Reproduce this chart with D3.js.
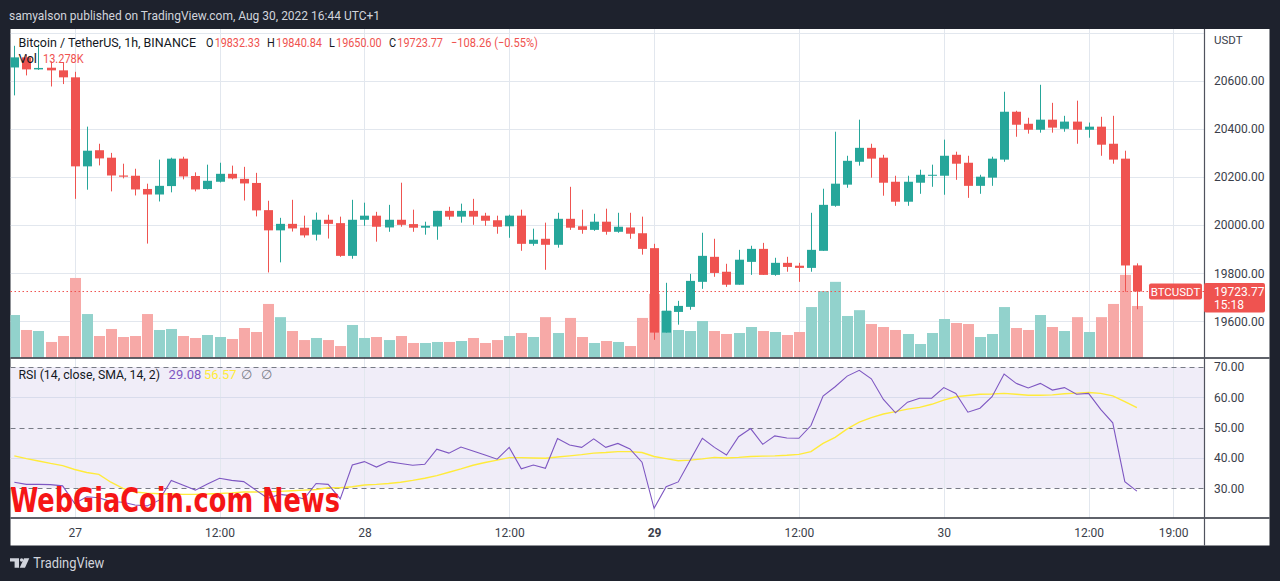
<!DOCTYPE html>
<html><head><meta charset="utf-8">
<script src="https://cdn.jsdelivr.net/npm/d3@7"></script>
<style>
html,body{margin:0;padding:0;background:#1e222d;}
svg{display:block;font-family:Roboto,"Noto Sans",sans-serif;}
</style></head><body>
<svg id="c" width="1280" height="581"></svg>
<script>
// ---- data (1h candles, hours counted from Aug 27 00:00 UTC+1) ----
const startHour = -5; // first visible candle: Aug 26 19:00
const opens = [20655,20697,20647,20654,20643,20614,20244,20311,20280,20206,
 20205,20150,20127,20162,20276,20204,20150,20180,20213,20192,
 20175,20062,19978,20005,19989,19960,20022,20008,19872,20022,
 20039,19990,20022,20004,19989,19994,20059,20035,20059,20039,
 20020,19995,20039,19922,19943,19918,20026,19995,19980,20014,
 19972,19990,19966,19904,19553,19639,19660,19764,19868,19806,
 19752,19847,19901,19793,19843,19831,19822,19893,20080,20168,
 20263,20321,20280,20180,20097,20176,20205,20205,20292,20259,
 20163,20197,20272,20471,20421,20396,20438,20400,20430,20396,
 20409,20338,20276,19832.33];
const highs = [20745,20708,20750,20680,20675,20637,20409,20338,20300,20255,
 20234,20172,20272,20280,20284,20219,20251,20259,20247,20242,
 20217,20101,20030,20105,20039,20052,20043,20035,20105,20093,
 20055,20084,20176,20064,20014,20059,20076,20089,20109,20051,
 20039,20043,20064,19985,20010,20051,20159,20064,20047,20068,
 20051,20051,20035,19922,19760,19685,19797,19968,19943,19839,
 19897,19914,19926,19864,19868,19843,20051,20151,20388,20288,
 20438,20338,20292,20205,20205,20230,20251,20355,20305,20288,
 20209,20284,20554,20475,20446,20583,20508,20454,20517,20426,
 20450,20454,20309,19840.84];
const lows = [20539,20622,20645,20576,20586,20109,20147,20248,20140,20194,
 20123,19923,20098,20136,20190,20140,20148,20177,20190,20102,
 20036,19803,19845,19973,19948,19936,19944,19868,19860,19997,
 19931,19972,19993,19972,19960,19939,20022,20010,20001,19997,
 19964,19947,19893,19914,19814,19906,19980,19964,19976,19960,
 19968,19943,19877,19523,19553,19586,19648,19735,19785,19743,
 19752,19793,19793,19789,19806,19764,19806,19893,20076,20155,
 20247,20197,20122,20080,20080,20130,20159,20126,20188,20113,
 20130,20163,20263,20367,20380,20384,20384,20388,20338,20363,
 20288,20255,19723,19650.00];
const closes = [20697,20647,20653,20643,20614,20244,20309,20277,20206,20201,
 20148,20127,20163,20276,20202,20148,20184,20213,20194,20173,
 20061,19978,20005,19986,19957,20022,20005,19872,20022,20039,
 19993,20022,20001,19989,19997,20059,20035,20059,20035,20018,
 19993,20039,19922,19939,19918,20026,19989,19980,20014,19972,
 19993,19964,19901,19553,19644,19664,19768,19872,19801,19752,
 19856,19901,19793,19843,19826,19822,19897,20084,20172,20267,
 20321,20276,20176,20097,20180,20209,20209,20288,20255,20163,
 20201,20276,20471,20417,20396,20438,20405,20430,20396,20409,
 20334,20272,19832.03,19723.77];
const volumesK = [10.95,7.09,6.83,4.0,5.54,20.5,11.2,5.54,7.35,5.28,
 5.54,11.2,7.09,7.35,5.54,5.03,5.8,5.28,4.77,7.6,
 6.57,13.8,10.4,6.83,4.5,5.03,4.5,2.96,8.38,5.03,
 5.28,4.5,5.54,3.74,3.74,4.0,4.0,4.25,5.03,3.74,
 4.5,5.54,6.31,5.28,10.4,6.31,10.2,5.28,3.74,4.25,
 4.0,2.96,10.2,16.4,12.0,7.09,6.83,9.41,6.83,6.06,
 6.31,7.86,6.83,6.57,5.8,6.57,13.0,17.1,19.5,10.7,
 12.2,8.63,7.86,7.09,6.06,3.48,6.31,9.92,8.89,8.63,
 5.28,6.06,13.0,7.6,7.09,10.95,7.86,6.83,10.4,6.57,
 10.4,13.8,21.3,13.278];
const rsi = [32.0,31.3,31.3,31.2,30.8,25.0,27.2,26.9,25.6,25.4,
 24.5,24.2,26.1,32.6,31.0,29.4,31.4,33.3,32.6,32.2,
 29.4,26.7,28.0,27.5,26.5,31.6,31.3,26.5,37.7,38.8,
 37.0,38.8,38.2,37.6,37.9,42.9,41.6,43.6,42.3,41.0,
 39.6,43.5,36.4,37.7,36.6,46.4,44.3,43.5,46.3,43.5,
 44.8,43.0,38.6,23.4,30.5,32.1,39.3,46.5,43.5,41.0,
 47.0,49.7,44.5,47.3,46.6,46.5,50.7,60.4,63.5,67.0,
 68.9,66.1,59.3,54.9,58.4,59.7,59.7,63.2,61.3,55.1,
 56.4,60.2,67.7,64.6,63.1,64.6,62.4,63.2,61.0,61.3,
 56.0,51.6,32.2,29.08];
const rsiSma = [40.7,39.8,39.0,38.2,37.5,36.2,35.2,34.6,32.0,30.0,
 28.8,28.4,28.2,28.1,28.0,28.0,28.1,28.3,28.5,28.8,
 28.8,28.9,29.0,29.2,29.4,29.6,30.2,30.2,30.5,31.1,
 31.3,31.6,32.0,32.6,33.3,34.2,35.3,36.4,37.6,38.5,
 39.3,40.1,40.1,40.0,39.9,40.3,40.7,41.1,41.6,41.8,
 42.1,42.1,41.8,40.5,39.8,39.1,39.3,39.7,40.2,40.0,
 40.2,40.5,40.6,40.7,40.9,41.2,42.1,44.8,46.8,49.6,
 51.8,53.3,54.5,55.3,56.1,56.7,57.7,59.1,60.2,60.6,
 61.0,61.1,61.3,61.0,60.7,60.7,60.8,61.2,61.4,61.6,
 61.3,60.5,58.6,56.57];
const priceTicks = [19600,19800,20000,20200,20400,20600];
const priceGrid = [19600,19800,20000,20200,20400,20600,20800];
const rsiTicks = [30,40,50,60,70];
const timeTickHours = [0,12,24,36,48,60,72,84,91];
const timeTickLabels = ["27","12:00","28","12:00","29","12:00","30","12:00","19:00"];
const boldTimeLabels = ["29"];

// ---- layout ----
const L = 10.5, R = 1204, TOP = 29, MAINB = 358, RSIB = 518, BOT = 545.5, RIGHT = 1269.5;
const UP = "#26a69a", DOWN = "#ef5350", UPV = "#92d2cc", DOWNV = "#f7a9a7";
const GRID = "#e2e7ee";

const svg = d3.select("#c");
const x = d3.scaleLinear().domain([0, 84]).range([74.7, 1088.6]);
const yP = d3.scaleLinear().domain([19600, 20600]).range([321.3, 80.7]);
const yV = d3.scaleLinear().domain([0, 20]).range([357.5, 357.5 - 77.6]);
const yR = d3.scaleLinear().domain([30, 70]).range([488.3, 367]);
const cx = i => x(startHour + i);

svg.append("rect").attr("x", L).attr("y", TOP).attr("width", RIGHT - L).attr("height", BOT - TOP).attr("fill", "#ffffff");

const defs = svg.append("defs");
defs.append("clipPath").attr("id", "cm").append("rect").attr("x", L).attr("y", TOP).attr("width", R - L).attr("height", MAINB - TOP);
defs.append("clipPath").attr("id", "cr").append("rect").attr("x", L).attr("y", MAINB).attr("width", R - L).attr("height", RSIB - MAINB);

svg.append("rect").attr("x", L).attr("width", R - L).attr("y", yR(70)).attr("height", yR(30) - yR(70)).attr("fill", "#f0edf8");

const g = svg.append("g");
g.selectAll("line.vg").data(timeTickHours).join("line")
  .attr("x1", d => Math.round(x(d)) + 0.5).attr("x2", d => Math.round(x(d)) + 0.5)
  .attr("y1", TOP).attr("y2", RSIB).attr("stroke", GRID).attr("stroke-width", 1);
g.append("g").attr("clip-path", "url(#cm)").selectAll("line").data(priceGrid).join("line")
  .attr("x1", L).attr("x2", R).attr("y1", d => Math.round(yP(d)) + 0.5).attr("y2", d => Math.round(yP(d)) + 0.5)
  .attr("stroke", GRID);
g.selectAll("line.rg").data([40, 60]).join("line")
  .attr("x1", L).attr("x2", R).attr("y1", d => Math.round(yR(d)) + 0.5).attr("y2", d => Math.round(yR(d)) + 0.5)
  .attr("stroke", "#d9dcec");

const idx = d3.range(closes.length);
svg.append("g").attr("clip-path", "url(#cm)").selectAll("rect").data(idx).join("rect")
  .attr("x", i => Math.round(cx(i)) - 5).attr("width", 11)
  .attr("y", i => yV(volumesK[i])).attr("height", i => yV(0) - yV(volumesK[i]))
  .attr("fill", i => closes[i] >= opens[i] ? UPV : DOWNV);

const lastC = closes[closes.length - 1];
svg.append("line").attr("x1", L).attr("x2", R).attr("y1", yP(lastC)).attr("y2", yP(lastC))
  .attr("stroke", DOWN).attr("stroke-width", 1).attr("stroke-dasharray", "1.5,2.5");

const cg = svg.append("g").attr("clip-path", "url(#cm)");
cg.selectAll("line").data(idx).join("line")
  .attr("x1", i => Math.round(cx(i)) + 0.5).attr("x2", i => Math.round(cx(i)) + 0.5)
  .attr("y1", i => yP(highs[i])).attr("y2", i => yP(lows[i]))
  .attr("stroke", i => closes[i] >= opens[i] ? UP : DOWN).attr("stroke-width", 1);
cg.selectAll("rect").data(idx).join("rect")
  .attr("x", i => Math.round(cx(i)) - 4).attr("width", 9)
  .attr("y", i => yP(Math.max(opens[i], closes[i])))
  .attr("height", i => Math.max(1, Math.abs(yP(opens[i]) - yP(closes[i]))))
  .attr("fill", i => closes[i] >= opens[i] ? UP : DOWN);

svg.selectAll("line.dl").data([70, 50, 30]).join("line")
  .attr("x1", L).attr("x2", R).attr("y1", d => Math.round(yR(d)) + 0.5).attr("y2", d => Math.round(yR(d)) + 0.5)
  .attr("stroke", "#787b86").attr("stroke-dasharray", "5,4");

const rg = svg.append("g").attr("clip-path", "url(#cr)");
rg.append("path").datum(idx).attr("fill", "none").attr("stroke", "#ffeb3b").attr("stroke-width", 1.4)
  .attr("d", d3.line().x(i => cx(i)).y(i => yR(rsiSma[i])));
rg.append("path").datum(idx).attr("fill", "none").attr("stroke", "#7e57c2").attr("stroke-width", 1.1)
  .attr("d", d3.line().x(i => cx(i)).y(i => yR(rsi[i])));

svg.append("line").attr("x1", L).attr("x2", RIGHT).attr("y1", MAINB).attr("y2", MAINB).attr("stroke", "#2a2e39").attr("stroke-width", 1.5);
svg.append("line").attr("x1", L).attr("x2", RIGHT).attr("y1", RSIB).attr("y2", RSIB).attr("stroke", "#2a2e39").attr("stroke-width", 1.5);
svg.append("line").attr("x1", R + 0.5).attr("x2", R + 0.5).attr("y1", TOP).attr("y2", BOT).attr("stroke", "#50535e").attr("stroke-width", 1.2);

const axP = svg.append("g").attr("transform", `translate(${R},0)`)
  .call(d3.axisRight(yP).tickValues(priceTicks).tickFormat(d => d.toFixed(2)).tickSize(0).tickPadding(10));
const axR = svg.append("g").attr("transform", `translate(${R},0)`)
  .call(d3.axisRight(yR).tickValues(rsiTicks).tickFormat(d => d.toFixed(2)).tickSize(0).tickPadding(10));
const axT = svg.append("g").attr("transform", `translate(0,${RSIB})`)
  .call(d3.axisBottom(x).tickValues(timeTickHours).tickFormat((d, i) => timeTickLabels[i]).tickSize(0).tickPadding(10.5));
[axP, axR, axT].forEach(a => {
  a.select(".domain").remove();
  a.selectAll("text").attr("fill", "#3a3e4a").attr("font-size", 12).attr("font-family", "Roboto, sans-serif");
});
axT.selectAll("text").attr("font-weight", d => boldTimeLabels.includes(timeTickLabels[timeTickHours.indexOf(d)]) ? "bold" : null);

svg.append("text").attr("x", 1214).attr("y", 44).attr("font-size", 11.5).attr("fill", "#3a3e4a").text("USDT");

// legend
const leg = svg.append("g").attr("font-size", 13);
leg.append("text").attr("x", 18.4).attr("y", 47).attr("fill", "#131722").attr("textLength", 177.6).attr("lengthAdjust", "spacingAndGlyphs").text("Bitcoin / TetherUS, 1h, BINANCE");
const last = closes.length - 1;
const chg = closes[last] - closes[last - 1];
const f2 = d3.format(".2f");
const pairs = [
  {k: "O", v: f2(opens[last]), x: 206, w: 54},
  {k: "H", v: f2(highs[last]), x: 267, w: 55},
  {k: "L", v: f2(lows[last]), x: 329, w: 52.6},
  {k: "C", v: f2(closes[last]), x: 389, w: 54}
];
pairs.forEach(p => {
  const t = leg.append("text").attr("x", p.x).attr("y", 47).attr("textLength", p.w).attr("lengthAdjust", "spacingAndGlyphs");
  t.append("tspan").attr("fill", "#131722").text(p.k);
  t.append("tspan").attr("fill", DOWN).attr("dx", 1.5).text(p.v);
});
leg.append("text").attr("x", 451).attr("y", 47).attr("fill", DOWN).attr("textLength", 87).attr("lengthAdjust", "spacingAndGlyphs")
  .text("\u2212" + f2(Math.abs(chg)) + " (\u2212" + f2(Math.abs(chg) / closes[last - 1] * 100) + "%)");
leg.append("text").attr("x", 18.4).attr("y", 63).attr("fill", "#131722").text("Vol");
leg.append("text").attr("x", 43).attr("y", 63).attr("fill", DOWN).attr("textLength", 40.7).attr("lengthAdjust", "spacingAndGlyphs").text(d3.format(".3f")(volumesK[last]) + "K");

const rl = svg.append("g").attr("font-size", 13);
rl.append("text").attr("x", 18.4).attr("y", 379).attr("fill", "#131722").attr("textLength", 141.6).attr("lengthAdjust", "spacingAndGlyphs").text("RSI (14, close, SMA, 14, 2)");
rl.append("text").attr("x", 168.6).attr("y", 379).attr("fill", "#7e57c2").text(f2(rsi[last]));
rl.append("text").attr("x", 204).attr("y", 379).attr("fill", "#ffeb3b").text(f2(rsiSma[last]));
rl.append("text").attr("x", 241).attr("y", 379).attr("fill", "#787b86").text("\u2205");
rl.append("text").attr("x", 261).attr("y", 379).attr("fill", "#787b86").text("\u2205");

// price labels
svg.append("rect").attr("x", 1149).attr("y", 283.5).attr("width", 53).attr("height", 16).attr("rx", 2).attr("fill", DOWN);
svg.append("text").attr("x", 1175.5).attr("y", 295.5).attr("text-anchor", "middle").attr("fill", "#fff").attr("font-size", 11.5).text("BTCUSDT");
svg.append("rect").attr("x", 1204).attr("y", 283).attr("width", 61).attr("height", 29.5).attr("rx", 2).attr("fill", DOWN);
svg.append("text").attr("x", 1214).attr("y", 296).attr("fill", "#fff").attr("font-size", 12).text(f2(closes[last]));
svg.append("text").attr("x", 1214).attr("y", 308.5).attr("fill", "#fff").attr("font-size", 12).text("15:18");

// watermark
svg.append("text").attr("x", 10).attr("y", 512).attr("font-family", "'DejaVu Sans Condensed','Liberation Sans Narrow',sans-serif")
  .attr("font-weight", "bold").attr("font-size", 33).attr("fill", "#f51616")
  .attr("textLength", 330).attr("lengthAdjust", "spacingAndGlyphs").text("WebGiaCoin.com News");

// header & footer
svg.append("text").attr("x", 9).attr("y", 20).attr("fill", "#d1d4dc").attr("font-size", 13)
  .attr("textLength", 371).attr("lengthAdjust", "spacingAndGlyphs")
  .text("samyalson published on TradingView.com, Aug 30, 2022 16:44 UTC+1");
const logo = svg.append("g").attr("fill", "#d1d4dc");
logo.append("path").attr("d", "M10,558.3 H19 V567.7 H14.6 V561.6 H10 Z");
logo.append("circle").attr("cx", 21.6).attr("cy", 560).attr("r", 1.7);
logo.append("path").attr("d", "M24,558.3 H29.3 L25,567.7 H19.7 Z");
svg.append("text").attr("x", 33.3).attr("y", 568).attr("fill", "#d1d4dc").attr("font-size", 14)
  .attr("textLength", 71).attr("lengthAdjust", "spacingAndGlyphs").text("TradingView");
</script>
</body></html>
